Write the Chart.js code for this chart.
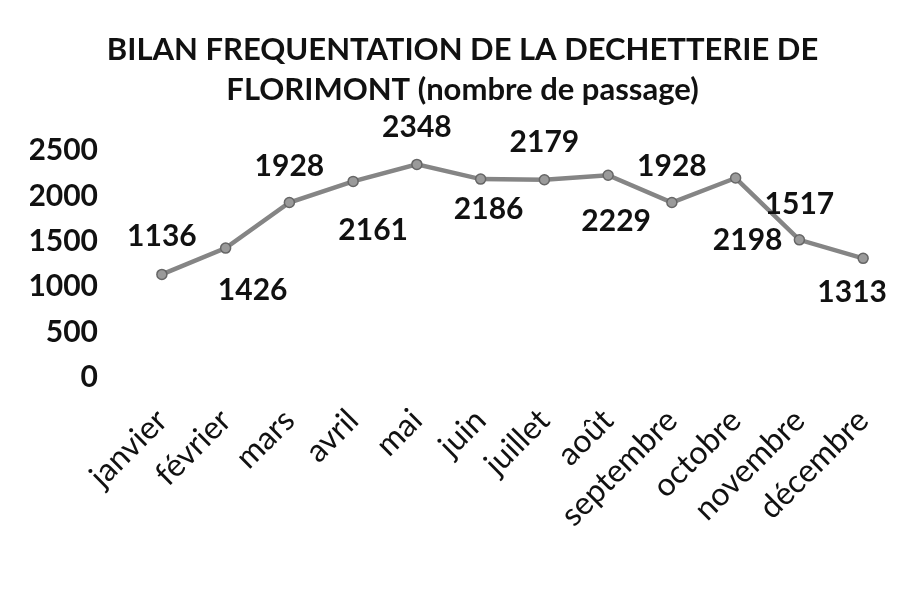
<!DOCTYPE html>
<html>
<head>
<meta charset="utf-8">
<script src="https://cdn.jsdelivr.net/npm/chart.js@4/dist/chart.umd.min.js"></script>
<style>
    html, body { margin: 0; padding: 0; background: #fff; }
    #wrap { width: 909px; height: 604px; }
</style>
</head>
<body>
<div id="wrap"><canvas id="grafica" width="909" height="604"></canvas></div>
<script>
// Données
const MOIS = ["janvier", "février", "mars", "avril", "mai", "juin",
              "juillet", "août", "septembre", "octobre", "novembre", "décembre"];
const PASSAGES = [1136, 1426, 1928, 2161, 2348, 2186, 2179, 2229, 1928, 2198, 1517, 1313];
const TICKS_Y = [0, 500, 1000, 1500, 2000, 2500];
const TITRE = ["BILAN FREQUENTATION DE LA DECHETTERIE DE", "FLORIMONT (nombre de passage)"];

// Décalage des étiquettes par rapport au point (en px) : au-dessus / en dessous
const DECALAGES = [
    [0, -38], [27, 42], [0, -36], [20, 49], [0, -37], [8, 30],
    [0, -37], [8, 46], [0, -36], [12, 62], [0, -36], [-11, 34]
];

const POLICE = "Lato, 'Noto Sans', sans-serif";

// Étiquettes de valeurs dessinées à partir des points du jeu de données
const etiquettes = {
    id: "etiquettes",
    afterDatasetsDraw(chart) {
        const ctx = chart.ctx;
        const meta = chart.getDatasetMeta(0);
        ctx.save();
        ctx.font = "bold 30px " + POLICE;
        ctx.fillStyle = "#111";
        ctx.textAlign = "center";
        ctx.textBaseline = "middle";
        meta.data.forEach((pt, i) => {
            const d = DECALAGES[i];
            ctx.fillText(String(PASSAGES[i]), pt.x + d[0], pt.y + d[1]);
        });
        ctx.restore();
    }
};

new Chart(document.getElementById("grafica"), {
    type: "line",
    data: {
        labels: MOIS,
        datasets: [{
            data: PASSAGES,
            borderColor: "#858585",
            borderWidth: 4.5,
            pointRadius: 5,
            pointBackgroundColor: "#9a9a9a",
            pointBorderColor: "#666",
            pointBorderWidth: 1.5,
            tension: 0,
            fill: false
        }]
    },
    options: {
        responsive: false,
        animation: false,
        layout: { autoPadding: false, padding: { left: 30, right: 14, top: 0, bottom: 46 } },
        plugins: {
            legend: { display: false },
            tooltip: { enabled: false },
            title: {
                display: true,
                text: TITRE,
                color: "#111",
                font: { family: POLICE, size: 31, weight: "bold", lineHeight: 1.3 },
                padding: { top: 30, bottom: 40 }
            }
        },
        scales: {
            x: {
                offset: true,
                // les étiquettes inclinées ne doivent pas élargir la marge gauche
                afterFit: axis => { axis.paddingLeft = 0; axis.paddingRight = 0; },
                grid: { display: false, drawTicks: false },
                border: { display: false },
                ticks: {
                    autoSkip: false,
                    maxRotation: 45,
                    minRotation: 45,
                    padding: 24,
                    color: "#111",
                    font: { family: POLICE, size: 32 }
                }
            },
            y: {
                min: 0,
                max: 2500,
                afterBuildTicks: axis => { axis.ticks = TICKS_Y.map(v => ({ value: v })); },
                afterFit: axis => { axis.width = 100; },
                grid: { display: false, drawTicks: false },
                border: { display: false },
                ticks: {
                    padding: 32,
                    color: "#111",
                    font: { family: POLICE, size: 30, weight: "bold" },
                    callback: value => String(value)
                }
            }
        }
    },
    plugins: [etiquettes]
});
</script>
</body>
</html>
